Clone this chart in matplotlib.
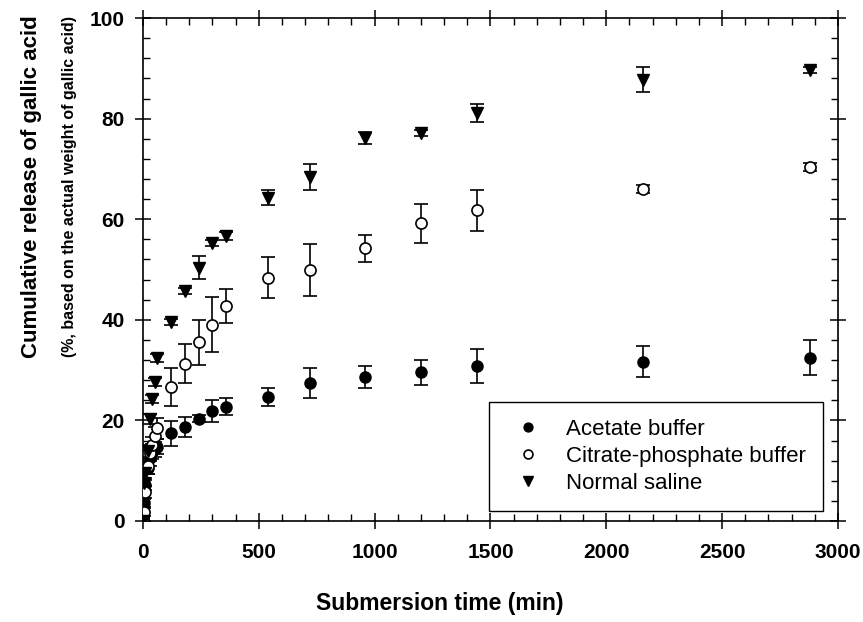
import numpy as np
import matplotlib
matplotlib.use("Agg")
import matplotlib.pyplot as plt
from matplotlib.ticker import MultipleLocator
from matplotlib import font_manager

plt.rcParams['font.family'] = ['Liberation Sans', 'DejaVu Sans']

# sampling times (min)
time = [0, 5, 10, 20, 30, 40, 50, 60, 120, 180, 240, 300, 360, 540, 720, 960, 1200, 1440, 2160, 2880]

# cumulative release (%)
acetate = [0, 3.5, 7.2, 10.5, 12.5, 13.8, 14.3, 14.8, 17.4, 18.7, 20.3, 21.9, 22.7, 24.7, 27.5, 28.7, 29.6, 30.8, 31.7, 32.5]
acetate_err = [0, 0.8, 1.0, 1.2, 1.5, 1.5, 1.5, 1.5, 2.5, 2.0, 0.7, 2.2, 1.7, 1.8, 3.0, 2.2, 2.5, 3.4, 3.0, 3.5]

citrate = [0.5, 1.7, 5.8, 10.9, 13.5, 15.2, 16.8, 18.4, 26.6, 31.3, 35.5, 39.0, 42.7, 48.4, 49.9, 54.2, 59.2, 61.8, 66.1, 70.3]
citrate_err = [0.3, 0.8, 1.2, 1.5, 1.5, 1.5, 1.8, 2.0, 3.75, 3.9, 4.4, 5.5, 3.4, 4.0, 5.2, 2.7, 3.9, 4.1, 0.8, 0.8]

saline = [0, 7.5, 9.5, 14.0, 20.3, 24.2, 27.6, 32.5, 39.6, 45.7, 50.4, 55.2, 56.7, 64.3, 68.4, 76.1, 77.1, 81.1, 87.7, 89.7]
saline_err = [0, 0.8, 1.0, 1.2, 1.0, 0.8, 0.8, 0.8, 0.6, 0.6, 2.3, 0.6, 0.8, 1.5, 2.5, 1.2, 0.6, 1.8, 2.5, 0.6]

labels = ['Acetate buffer', 'Citrate-phosphate buffer', 'Normal saline']

fig = plt.figure(figsize=(8.63, 6.22), dpi=100)
ax = fig.add_axes([0.1657, 0.1624, 0.8053, 0.8086])

eb_kw = dict(ecolor='black', elinewidth=1.2, capsize=5, capthick=1.2, linestyle='none')
ax.errorbar(time, acetate, yerr=acetate_err, fmt='o', ms=8, mfc='black', mec='black',
            label=labels[0], zorder=3, **eb_kw)
ax.errorbar(time, citrate, yerr=citrate_err, fmt='o', ms=8, mfc='white', mec='black',
            mew=1.2, label=labels[1], zorder=3, **eb_kw)
ax.errorbar(time, saline, yerr=saline_err, fmt='v', ms=8.5, mfc='black', mec='black',
            label=labels[2], zorder=3, **eb_kw)

ax.set_xlim(0, 3000)
ax.set_ylim(0, 100)
ax.xaxis.set_major_locator(MultipleLocator(500))
ax.xaxis.set_minor_locator(MultipleLocator(100))
ax.yaxis.set_major_locator(MultipleLocator(20))
ax.yaxis.set_minor_locator(MultipleLocator(4))

ax.tick_params(which='major', direction='inout', length=12, width=1.1,
               top=True, right=True, labelsize=15)
ax.tick_params(axis='x', which='major', pad=10)
ax.tick_params(axis='y', which='major', pad=7)
ax.tick_params(which='minor', direction='in', length=5, width=1.0, top=True, right=True)
for lab in ax.get_xticklabels() + ax.get_yticklabels():
    lab.set_fontweight('bold')
for s in ax.spines.values():
    s.set_linewidth(1.2)

# x label looks condensed in the original
names = {f.name for f in font_manager.fontManager.ttflist}
if 'Liberation Sans Narrow' in names:
    xl_family, xl_size = ['Liberation Sans Narrow', 'DejaVu Sans'], 20
else:
    xl_family, xl_size = ['Liberation Sans', 'DejaVu Sans'], 16.5
fig.text(440 / 863, 1 - 610 / 622, 'Submersion time (min)', family=xl_family,
         fontsize=xl_size, fontweight='bold', ha='center', va='baseline')

fig.text(0.036, 0.70, 'Cumulative release of gallic acid', rotation=90,
         fontsize=16, fontweight='bold', ha='center', va='center')
fig.text(0.080, 0.70, '(%, based on the actual weight of gallic acid)', rotation=90,
         fontsize=11.5, fontweight='bold', ha='center', va='center')

h, l = ax.get_legend_handles_labels()
h = [hh[0] for hh in h]
leg = ax.legend(h, l, loc='lower right', bbox_to_anchor=(0.978, 0.02), borderaxespad=0,
                fontsize=16, fancybox=False, edgecolor='black', framealpha=1,
                markerscale=0.8, handlelength=2.0, handletextpad=0.7,
                borderpad=0.75, labelspacing=0.28)
leg.get_frame().set_linewidth(1.0)

fig.savefig('out.png', dpi=100)
